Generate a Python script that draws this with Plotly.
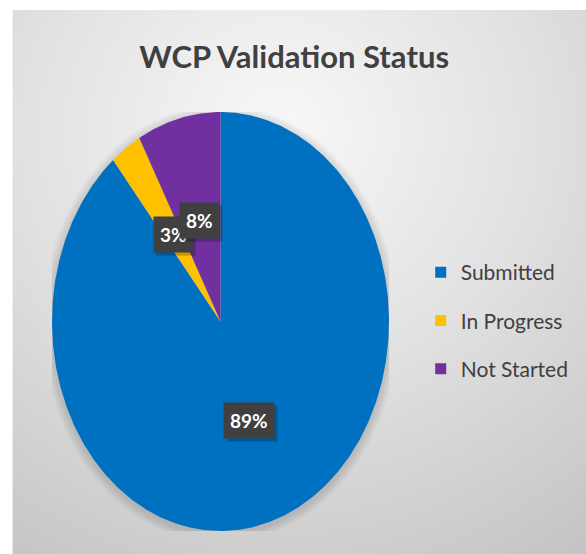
import base64
import numpy as np
import plotly.graph_objects as go

# Status breakdown
labels = ["Submitted", "In Progress", "Not Started"]
values = [89, 3, 8]
colors = ["#0070C0", "#FFC000", "#7030A0"]

W, H = 586, 554
ML, MR, MT, MB = 52, 194, 112, 23
PW, PH = W - ML - MR, H - MT - MB

total = float(sum(values))
fracs = [v / total for v in values]
starts = np.concatenate([[0.0], np.cumsum(fracs)[:-1]])

fig = go.Figure()

# Slices drawn clockwise from 12 o'clock as filled polygons in a [-1, 1] frame
for lab, f, s, col in zip(labels, fracs, starts, colors):
    n = max(int(f * 720), 4)
    t = np.pi / 2 - 2 * np.pi * np.linspace(s, s + f, n)
    xs = np.concatenate([[0.0], np.cos(t), [0.0]])
    ys = np.concatenate([[0.0], np.sin(t), [0.0]])
    fig.add_trace(go.Scatter(
        x=xs, y=ys, mode="lines", fill="toself", fillcolor=col,
        line=dict(width=0, color=col), showlegend=False,
        hoverinfo="text", text=f"{lab}: {f:.0%}",
    ))

# Legend entries
for lab, col in zip(labels, colors):
    fig.add_trace(go.Scatter(
        x=[None], y=[None], mode="markers", name=lab, legendgroup=lab,
        marker=dict(symbol="square", size=11, color=col),
    ))

# Percentage labels at half radius on each slice's middle angle
annotations = []
for f, s in zip(fracs, starts):
    mid = np.pi / 2 - 2 * np.pi * (s + f / 2)
    ax, ay = 0.5 * np.cos(mid), 0.5 * np.sin(mid)
    txt = f"{f:.0%}"
    annotations.append(dict(
        x=ax, y=ay, xref="x", yref="y", text=txt, showarrow=False,
        font=dict(family="Lato", size=19, color="rgba(0,0,0,0)"),
        bgcolor="rgba(0,0,0,0.22)", borderpad=6, xshift=3, yshift=-3,
    ))
    annotations.append(dict(
        x=ax, y=ay, xref="x", yref="y", text=f"<b>{txt}</b>", showarrow=False,
        font=dict(family="Lato", size=19, color="white"),
        bgcolor="#404040", borderpad=6,
    ))

# Soft shadow around the pie
shapes = []
for k in range(8, 0, -1):
    d = k * 1.2
    shapes.append(dict(
        type="circle", xref="x", yref="y", layer="below",
        x0=-1 - d / PW * 2, x1=1 + d / PW * 2,
        y0=-1 - d / PH * 2 - 4 / PH, y1=1 + d / PH * 2 - 4 / PH,
        fillcolor="rgba(0,0,0,0.014)", line=dict(width=0),
    ))

# Grey panel with a soft radial gradient (runs past the right and bottom edges)
px0, py0, px1, py1 = 12, 10, W + 10, H + 10
svg = f"""<svg xmlns='http://www.w3.org/2000/svg' width='{px1-px0}' height='{py1-py0}'>
<defs><radialGradient id='g' cx='0.46' cy='0.22' r='0.95' fx='0.46' fy='0.22'>
<stop offset='0' stop-color='#f8f8f8'/><stop offset='0.45' stop-color='#e2e2e2'/>
<stop offset='1' stop-color='#c2c2c2'/></radialGradient></defs>
<rect width='100%' height='100%' fill='url(#g)'/></svg>"""
src = "data:image/svg+xml;base64," + base64.b64encode(svg.encode()).decode()

def to_paper_x(px):
    return (px - ML) / PW

def to_paper_y(py):
    return (H - MB - py) / PH

images = [dict(
    source=src, xref="paper", yref="paper",
    x=to_paper_x(px0), y=to_paper_y(py0),
    sizex=(px1 - px0) / PW, sizey=(py1 - py0) / PH,
    xanchor="left", yanchor="top", sizing="stretch", layer="below",
)]

fig.update_layout(
    width=W, height=H,
    margin=dict(l=ML, r=MR, t=MT, b=MB),
    paper_bgcolor="white", plot_bgcolor="rgba(0,0,0,0)",
    title=dict(
        text="<b>WCP Validation Status</b>", x=0.502, xanchor="center",
        y=1 - 57 / H, yanchor="middle",
        font=dict(family="Lato", size=31, color="#404040"),
    ),
    xaxis=dict(range=[-1, 1], visible=False, fixedrange=True),
    yaxis=dict(range=[-1, 1], visible=False, fixedrange=True),
    showlegend=True,
    legend=dict(
        x=to_paper_x(424), xanchor="left", y=to_paper_y(252), yanchor="top",
        font=dict(family="Lato", size=21, color="#404040"),
        bgcolor="rgba(0,0,0,0)", traceorder="grouped", tracegroupgap=18,
    ),
    annotations=annotations, shapes=shapes, images=images,
)

fig.write_html("out.html")
